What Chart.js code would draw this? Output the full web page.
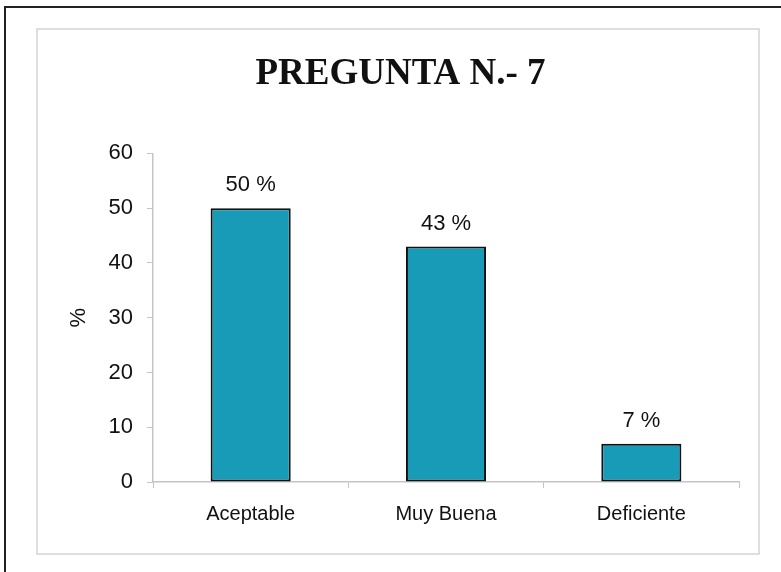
<!DOCTYPE html>
<html>
<head>
<meta charset="utf-8">
<script src="https://cdn.jsdelivr.net/npm/chart.js@4/dist/chart.umd.min.js"></script>
<style>
  html, body { margin: 0; padding: 0; background: #fff; }
  #wrap { width: 781px; height: 572px; }
</style>
</head>
<body>
<div id="wrap"><canvas id="chart" width="781" height="572"></canvas></div>
<script>
const categories = ['Aceptable', 'Muy Buena', 'Deficiente'];
const percentages = [50, 43, 7];
const yMin = 0;
const yMax = 60;
const yStep = 10;

const axisGray = '#c4c4c4';
const textColor = '#111';

// marcos de la hoja (linea oscura arriba/izquierda + recuadro gris)
const framePlugin = {
  id: 'frame',
  beforeDraw(chart) {
    const ctx = chart.ctx;
    ctx.save();
    ctx.fillStyle = '#fff';
    ctx.fillRect(0, 0, chart.width, chart.height);
    ctx.strokeStyle = '#222';
    ctx.lineWidth = 2;
    ctx.beginPath();
    ctx.moveTo(5, chart.height);
    ctx.lineTo(5, 7);
    ctx.lineTo(chart.width, 7);
    ctx.stroke();
    ctx.strokeStyle = '#d2d4d4';
    ctx.lineWidth = 1.5;
    ctx.strokeRect(37, 29, 722, 525);
    ctx.restore();
  }
};

// etiquetas "50 %" encima de cada barra
const valueLabels = {
  id: 'valueLabels',
  afterDatasetsDraw(chart) {
    const ctx = chart.ctx;
    const meta = chart.getDatasetMeta(0);
    ctx.save();
    ctx.font = '22px "Liberation Sans", Arial, sans-serif';
    ctx.fillStyle = textColor;
    ctx.textAlign = 'center';
    ctx.textBaseline = 'middle';
    meta.data.forEach((bar, i) => {
      ctx.fillText(percentages[i] + ' %', bar.x, bar.y - 23);
    });
    ctx.restore();
  }
};

new Chart(document.getElementById('chart'), {
  type: 'bar',
  data: {
    labels: categories,
    datasets: [{
      data: percentages,
      backgroundColor: '#189bb7',
      borderColor: '#111',
      borderWidth: 2,
      borderSkipped: false,
      barPercentage: 0.41,
      categoryPercentage: 1
    }]
  },
  options: {
    responsive: false,
    animation: false,
    layout: { padding: { left: 62, right: 42, top: 26, bottom: 18 } },
    plugins: {
      legend: { display: false },
      tooltip: { enabled: false },
      title: {
        display: true,
        text: 'PREGUNTA N.- 7',
        color: textColor,
        font: { family: '"Liberation Serif", "Times New Roman", serif', size: 37, weight: 'bold' },
        padding: { top: 26, bottom: 57 }
      }
    },
    scales: {
      x: {
        grid: { display: true, drawOnChartArea: false, tickLength: 6, color: axisGray, offset: true },
        border: { display: true, color: axisGray, width: 1.5 },
        ticks: {
          color: textColor,
          padding: 14,
          font: { family: '"Liberation Sans", Arial, sans-serif', size: 20 }
        },
        afterFit(scale) { scale.height = 572 - 18 - 482; }
      },
      y: {
        min: yMin,
        max: yMax,
        grid: { display: true, drawOnChartArea: false, tickLength: 6, color: axisGray },
        border: { display: true, color: axisGray, width: 1.5 },
        ticks: {
          stepSize: yStep,
          color: textColor,
          padding: 14,
          font: { family: '"Liberation Sans", Arial, sans-serif', size: 22 }
        },
        title: {
          display: true,
          text: '%',
          color: textColor,
          font: { family: '"Liberation Sans", Arial, sans-serif', size: 22 }
        },
        afterFit(scale) { scale.width = 153 - 62; }
      }
    }
  },
  plugins: [framePlugin, valueLabels]
});
</script>
</body>
</html>
